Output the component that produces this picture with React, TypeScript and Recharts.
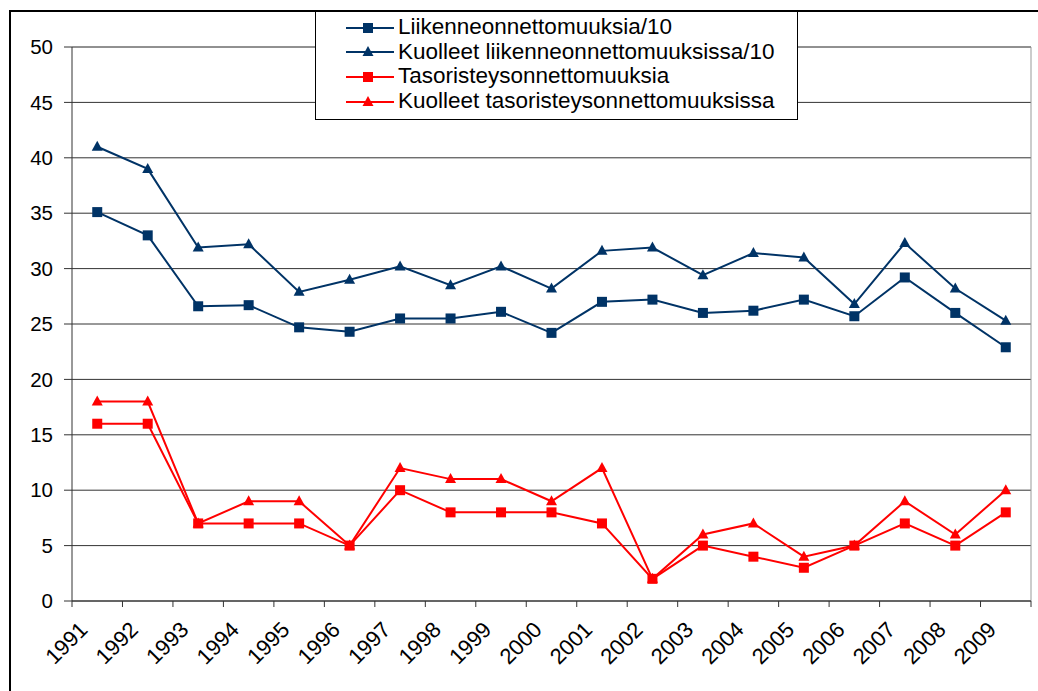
import { LineChart, Line, XAxis, YAxis, CartesianGrid, ReferenceLine, Legend } from 'recharts';

const YEARS = ['1991', '1992', '1993', '1994', '1995', '1996', '1997', '1998', '1999', '2000',
  '2001', '2002', '2003', '2004', '2005', '2006', '2007', '2008', '2009'];

// road accidents / 10
const ROAD_ACCIDENTS = [35.1, 33.0, 26.6, 26.7, 24.7, 24.3, 25.5, 25.5, 26.1, 24.2,
  27.0, 27.2, 26.0, 26.2, 27.2, 25.7, 29.2, 26.0, 22.9];
// road deaths / 10
const ROAD_DEATHS = [41.0, 39.0, 31.9, 32.2, 27.9, 29.0, 30.2, 28.5, 30.2, 28.2,
  31.6, 31.9, 29.4, 31.4, 31.0, 26.8, 32.3, 28.2, 25.3];
// level crossing accidents
const CROSSING_ACCIDENTS = [16, 16, 7, 7, 7, 5, 10, 8, 8, 8, 7, 2, 5, 4, 3, 5, 7, 5, 8];
// level crossing deaths
const CROSSING_DEATHS = [18, 18, 7, 9, 9, 5, 12, 11, 11, 9, 12, 2, 6, 7, 4, 5, 9, 6, 10];

const Y_TICKS = [0, 5, 10, 15, 20, 25, 30, 35, 40, 45, 50];
const X_TICKS = YEARS.map((_, i) => i).concat([YEARS.length]);

const NAVY = '#003366';
const RED = '#ff0000';
const FONT = '"Liberation Sans", Arial, sans-serif';

const SERIES = [
  { key: 'roadAcc', name: 'Liikenneonnettomuuksia/10', color: NAVY, shape: 'square' },
  { key: 'roadDeaths', name: 'Kuolleet liikenneonnettomuuksissa/10', color: NAVY, shape: 'triangle' },
  { key: 'crossAcc', name: 'Tasoristeysonnettomuuksia', color: RED, shape: 'square' },
  { key: 'crossDeaths', name: 'Kuolleet tasoristeysonnettomuuksissa', color: RED, shape: 'triangle' },
];

const chartData = YEARS.map((year, i) => ({
  x: i + 0.5,
  year,
  roadAcc: ROAD_ACCIDENTS[i],
  roadDeaths: ROAD_DEATHS[i],
  crossAcc: CROSSING_ACCIDENTS[i],
  crossDeaths: CROSSING_DEATHS[i],
}));

function Marker({ cx, cy, color, shape }: any) {
  if (shape === 'square') {
    return <rect x={cx - 5} y={cy - 5} width={10} height={10} fill={color} />;
  }
  return <polygon points={`${cx},${cy - 6} ${cx - 5.5},${cy + 4} ${cx + 5.5},${cy + 4}`} fill={color} />;
}

function makeDot(color: string, shape: string) {
  return (props: any) => {
    const { cx, cy, index } = props;
    if (cx == null || cy == null) return <g key={`d-${index}`} />;
    return (
      <g key={`d-${index}`}>
        <Marker cx={cx} cy={cy} color={color} shape={shape} />
      </g>
    );
  };
}

function YearTick({ x, y, payload }: any) {
  const i = payload.value;
  if (i >= YEARS.length) return <g />;
  const tx = x + 17;
  const ty = y + 22;
  return (
    <text x={tx} y={ty} textAnchor="end" fontSize={22} fontFamily={FONT} fill="#000"
      transform={`rotate(-45, ${tx}, ${ty})`}>
      {YEARS[i]}
    </text>
  );
}

function LegendBox() {
  return (
    <div style={{
      width: 483, height: 110, boxSizing: 'border-box', background: '#fff',
      border: '1px solid #000', position: 'relative', fontFamily: FONT, fontSize: 22.5,
    }}>
      {SERIES.map((s, i) => (
        <div key={s.key} style={{ position: 'absolute', left: 30, top: 3 + i * 24.7, height: 25, display: 'flex', alignItems: 'center', whiteSpace: 'nowrap' }}>
          <svg width={48} height={24} style={{ display: 'block' }}>
            <line x1={0} y1={13} x2={48} y2={13} stroke={s.color} strokeWidth={2} />
            <Marker cx={22} cy={13} color={s.color} shape={s.shape} />
          </svg>
          <span style={{ marginLeft: 4, color: '#000', lineHeight: '25px' }}>{s.name}</span>
        </div>
      ))}
    </div>
  );
}

export default function App() {
  return (
    <div style={{ position: 'absolute', left: 0, top: 0, width: 1038, height: 691, overflow: 'hidden', background: '#fff' }}>
      <LineChart width={1038} height={691} data={chartData} margin={{ top: 47, right: 7, left: 0, bottom: 0 }}>
        <CartesianGrid vertical={false} horizontal stroke="#333" strokeWidth={1} />
        <CartesianGrid horizontal={false} vertical verticalPoints={[1031]} stroke="#999" />
        <ReferenceLine y={50} stroke="#888" strokeWidth={1} />
        <XAxis
          dataKey="x"
          type="number"
          domain={[0, YEARS.length]}
          ticks={X_TICKS}
          interval={0}
          height={90}
          stroke="#333"
          tickSize={6}
          tick={<YearTick />}
        />
        <YAxis
          domain={[0, 50]}
          ticks={Y_TICKS}
          interval={0}
          width={72}
          stroke="#333"
          tickSize={8}
          tickMargin={11}
          tick={{ fill: '#000', fontSize: 20.5, fontFamily: FONT }}
        />
        <Legend
          layout="vertical"
          align="center"
          verticalAlign="middle"
          content={() => <LegendBox />}
          wrapperStyle={{ left: 315, top: 10, width: 483, height: 110 }}
        />
        {SERIES.map((s) => (
          <Line
            key={s.key}
            type="linear"
            dataKey={s.key}
            name={s.name}
            stroke={s.color}
            strokeWidth={2}
            dot={makeDot(s.color, s.shape)}
            activeDot={false}
            isAnimationActive={false}
          />
        ))}
      </LineChart>
      <div style={{ position: 'absolute', left: 9, top: 10, width: 1100, height: 1000, border: '2px solid #000', pointerEvents: 'none' }} />
    </div>
  );
}
